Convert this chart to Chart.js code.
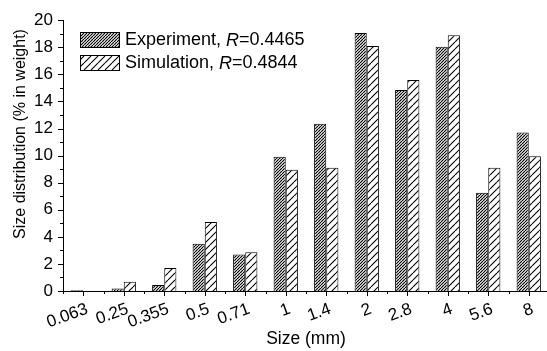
<!DOCTYPE html>
<html>
<head>
<meta charset="utf-8">
<script src="https://cdn.jsdelivr.net/npm/chart.js@4.4.1/dist/chart.umd.min.js"></script>
<style>
  html, body { margin: 0; padding: 0; background: #fff; overflow: hidden; width: 547px; height: 351px; }
  #wrap { position: absolute; left: 0; top: 0; width: 549px; height: 351px; }
</style>
</head>
<body>
<div id="wrap"><canvas id="c"></canvas></div>
<script>
const categories = ['0.063', '0.25', '0.355', '0.5', '0.71', '1', '1.4', '2', '2.8', '4', '5.6', '8'];
const experiment = [0.05, 0.19, 0.44, 3.49, 2.69, 9.91, 12.36, 19.05, 14.84, 18.03, 7.25, 11.71];
const simulation = [0.0, 0.68, 1.69, 5.09, 2.86, 8.95, 9.11, 18.1, 15.58, 18.88, 9.11, 9.96];
const seriesNames = ['Experiment', 'Simulation'];
const seriesR = ['0.4465', '0.4844'];
const yTicks = [0, 2, 4, 6, 8, 10, 12, 14, 16, 18, 20];
const xTitle = 'Size (mm)';
const yTitle = 'Size distribution (% in weight)';

const FONT = '"Liberation Sans", Arial, sans-serif';

function makePattern(spacing, lineWidth, color) {
  const c = document.createElement('canvas');
  c.width = spacing; c.height = spacing;
  const g = c.getContext('2d');
  g.fillStyle = '#fff';
  g.fillRect(0, 0, spacing, spacing);
  g.strokeStyle = color;
  g.lineWidth = lineWidth;
  g.beginPath();
  for (let k = -1; k <= 1; k++) {
    g.moveTo(k * spacing, spacing);
    g.lineTo(k * spacing + spacing, 0);
  }
  g.stroke();
  return document.getElementById('c').getContext('2d').createPattern(c, 'repeat');
}
const patExp = makePattern(3, 1.2, '#000');
const patSim = makePattern(7, 1.1, '#000');

const tickPlugin = {
  id: 'ticks',
  afterDraw(chart) {
    const ctx = chart.ctx;
    const x = chart.scales.x, y = chart.scales.y;
    ctx.save();
    ctx.strokeStyle = '#000';
    ctx.lineWidth = 1;
    ctx.beginPath();
    for (let v = 0; v <= 20; v++) {
      const py = Math.round(y.getPixelForValue(v)) + 0.5;
      const len = v % 2 === 0 ? 5 : 3;
      ctx.moveTo(x.left, py);
      ctx.lineTo(x.left - len, py);
    }
    const n = categories.length;
    for (let i = 0; i < n; i++) {
      const px = Math.round(x.getPixelForValue(i)) + 0.5;
      ctx.moveTo(px, y.bottom);
      ctx.lineTo(px, y.bottom + 5);
      const pb = Math.round(x.getPixelForValue(i - 0.5)) + 0.5;
      ctx.moveTo(pb, y.bottom);
      ctx.lineTo(pb, y.bottom + 3);
    }
    ctx.stroke();
    // y axis title
    ctx.fillStyle = '#000';
    ctx.font = '16px ' + FONT;
    ctx.textAlign = 'center';
    ctx.textBaseline = 'middle';
    ctx.translate(21, 134);
    ctx.rotate(-Math.PI / 2);
    ctx.fillText(yTitle, 0, 0);
    ctx.restore();
  }
};

const legendPlugin = {
  id: 'customLegend',
  afterDraw(chart) {
    const ctx = chart.ctx;
    const pats = [patExp, patSim];
    const bx = 80, bw = 39, bh = 15;
    const rows = [32, 55];
    ctx.save();
    for (let i = 0; i < 2; i++) {
      const by = rows[i];
      ctx.fillStyle = pats[i];
      ctx.fillRect(bx, by, bw, bh);
      ctx.strokeStyle = '#000';
      ctx.lineWidth = 1;
      ctx.strokeRect(bx + 0.5, by + 0.5, bw, bh);
      ctx.fillStyle = '#000';
      ctx.textBaseline = 'middle';
      let tx = 125;
      const ty = by + bh / 2 + 1;
      ctx.font = '18px ' + FONT;
      const a = seriesNames[i] + ', ';
      ctx.fillText(a, tx, ty); tx += ctx.measureText(a).width;
      ctx.font = 'italic 18px ' + FONT;
      ctx.fillText('R', tx, ty); tx += ctx.measureText('R').width;
      ctx.font = '18px ' + FONT;
      ctx.fillText('=' + seriesR[i], tx, ty);
    }
    ctx.restore();
  }
};

new Chart(document.getElementById('c'), {
  type: 'bar',
  data: {
    labels: categories,
    datasets: [
      { label: seriesNames[0], data: experiment, backgroundColor: patExp, borderColor: '#000', borderWidth: 1, borderSkipped: 'bottom' },
      { label: seriesNames[1], data: simulation, backgroundColor: patSim, borderColor: '#000', borderWidth: 1, borderSkipped: 'bottom' }
    ]
  },
  options: {
    responsive: true,
    maintainAspectRatio: false,
    animation: false,
    devicePixelRatio: 1,
    layout: { padding: { top: 16, left: 0, right: 0, bottom: 0 } },
    datasets: { bar: { categoryPercentage: 0.6, barPercentage: 1.0 } },
    plugins: { legend: { display: false }, tooltip: { enabled: false } },
    scales: {
      x: {
        offset: true,
        grid: { display: false, drawTicks: false },
        border: { display: true, color: '#000', width: 1 },
        ticks: {
          color: '#000', font: { family: FONT, size: 17 },
          minRotation: 20, maxRotation: 20, padding: 8, labelOffset: 4, autoSkip: false
        },
        title: { display: true, text: xTitle, color: '#000', font: { family: FONT, size: 17.5 }, padding: { top: 0, bottom: 1 } },
        afterFit(s) { s.height = 60; }
      },
      y: {
        min: 0, max: 20,
        afterBuildTicks(s) { s.ticks = yTicks.map(v => ({ value: v })); },
        grid: { display: false, drawTicks: false },
        border: { display: true, color: '#000', width: 1 },
        ticks: { color: '#000', font: { family: FONT, size: 17 }, padding: 10 },
        title: { display: false, text: yTitle },
        afterFit(s) { s.width = 63; }
      }
    }
  },
  plugins: [tickPlugin, legendPlugin]
});
</script>
</body>
</html>
